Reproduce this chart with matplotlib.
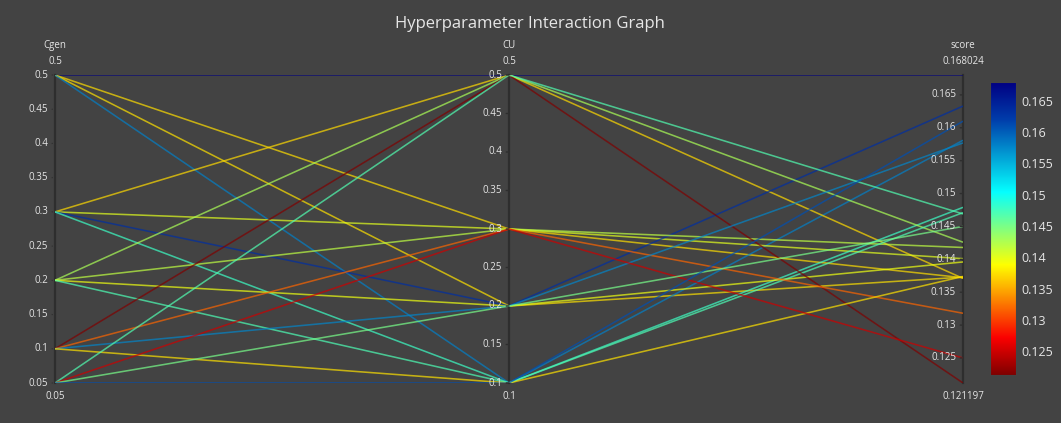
import numpy as np
import matplotlib
matplotlib.use("Agg")
import matplotlib.pyplot as plt
from matplotlib.collections import LineCollection
from matplotlib.colors import LinearSegmentedColormap, Normalize

plt.rcParams['font.family'] = ['Open Sans', 'DejaVu Sans']

# one row per trial: Cgen, CU and the resulting score
cgen = [0.5, 0.5, 0.5, 0.5,
        0.3, 0.3, 0.3, 0.3,
        0.2, 0.2, 0.2, 0.2,
        0.1, 0.1, 0.1, 0.1,
        0.05, 0.05, 0.05, 0.05]
cu = [0.5, 0.3, 0.2, 0.1,
      0.5, 0.3, 0.2, 0.1,
      0.5, 0.3, 0.2, 0.1,
      0.5, 0.3, 0.2, 0.1,
      0.5, 0.3, 0.2, 0.1]
score = [0.168024, 0.1372, 0.1373, 0.1581,
         0.1371, 0.1401, 0.1633, 0.1479,
         0.1426, 0.1418, 0.1396, 0.1471,
         0.121197, 0.1318, 0.1577, 0.1374,
         0.1469, 0.1250, 0.1450, 0.1610]

dim_names = ["Cgen", "CU", "score"]
cgen_ticks = [0.05, 0.1, 0.15, 0.2, 0.25, 0.3, 0.35, 0.4, 0.45, 0.5]
cu_ticks = [0.1, 0.15, 0.2, 0.25, 0.3, 0.35, 0.4, 0.45, 0.5]
score_ticks = [0.125, 0.13, 0.135, 0.14, 0.145, 0.15, 0.155, 0.16, 0.165]
cbar_ticks = [0.125, 0.13, 0.135, 0.14, 0.145, 0.15, 0.155, 0.16, 0.165]

BG = "#434343"
TXT = "#e6e6e6"

# reversed jet: dark red for low scores, dark blue for high
jet_r = LinearSegmentedColormap.from_list("jet_r", [
    (0.0, (128/255, 0, 0)),
    (0.125, (250/255, 0, 0)),
    (0.375, (1, 1, 0)),
    (0.625, (5/255, 1, 1)),
    (0.875, (0, 60/255, 170/255)),
    (1.0, (0, 0, 131/255)),
])

W, H = 1061, 423
fig = plt.figure(figsize=(W / 100, H / 100), dpi=100, facecolor=BG)

def px_axes(x0, y0, x1, y1):
    return fig.add_axes([x0 / W, 1 - y1 / H, (x1 - x0) / W, (y1 - y0) / H])

ax = px_axes(55, 75, 963, 383)
ax.set_xlim(0, 2)
ax.set_ylim(0, 1)
ax.axis("off")

cols = [np.array(cgen), np.array(cu), np.array(score)]
ranges = [(min(cgen), max(cgen)), (min(cu), max(cu)), (min(score), max(score))]
norm_cols = [(c - lo) / (hi - lo) for c, (lo, hi) in zip(cols, ranges)]

norm = Normalize(vmin=min(score), vmax=max(score))
segs = [np.column_stack([[0, 1, 2], [n[i] for n in norm_cols]]) for i in range(len(score))]
lc = LineCollection(segs, colors=jet_r(norm(np.array(score))), linewidths=1.15, alpha=0.7, zorder=3)
ax.add_collection(lc)

tick_sets = [cgen_ticks, cu_ticks, score_ticks]
for k, (name, ticks, (lo, hi)) in enumerate(zip(dim_names, tick_sets, ranges)):
    ax.plot([k, k], [0, 1], color="#2e2e2e", lw=1.6, zorder=2, clip_on=False)
    for t in ticks:
        y = (t - lo) / (hi - lo)
        ax.annotate("", xy=(k, y), xytext=(-4, 0), textcoords="offset points",
                    arrowprops=dict(arrowstyle="-", color="#2e2e2e", lw=1))
        ax.annotate(f"{t:g}", xy=(k, y), xytext=(-5, 0), textcoords="offset points",
                    ha="right", va="center", fontsize=7, color=TXT, zorder=4)
    ax.annotate(name, xy=(k, 1), xytext=(0, 21), textcoords="offset points",
                ha="center", va="center", fontsize=7, color=TXT)
    ax.annotate(f"{hi:g}", xy=(k, 1), xytext=(0, 10), textcoords="offset points",
                ha="center", va="center", fontsize=7, color=TXT)
    ax.annotate(f"{lo:g}", xy=(k, 0), xytext=(0, -10), textcoords="offset points",
                ha="center", va="center", fontsize=7, color=TXT)

fig.text(530 / W, 1 - 24 / H, "Hyperparameter Interaction Graph",
         ha="center", va="center", fontsize=12, color=TXT)

# colour bar
cax = px_axes(990, 82, 1016, 375)
grad = np.linspace(0, 1, 256).reshape(-1, 1)
cax.imshow(grad, aspect="auto", cmap=jet_r, origin="lower",
           extent=[0, 1, min(score), max(score)])
cax.set_xticks([])
cax.yaxis.tick_right()
cax.set_yticks(cbar_ticks)
cax.set_yticklabels([f"{t:g}" for t in cbar_ticks])
cax.tick_params(axis="y", length=0, pad=4, labelsize=9, labelcolor=TXT)
for s in cax.spines.values():
    s.set_color("#444444")
    s.set_linewidth(0.8)

fig.savefig("out.png", dpi=100, facecolor=BG)
